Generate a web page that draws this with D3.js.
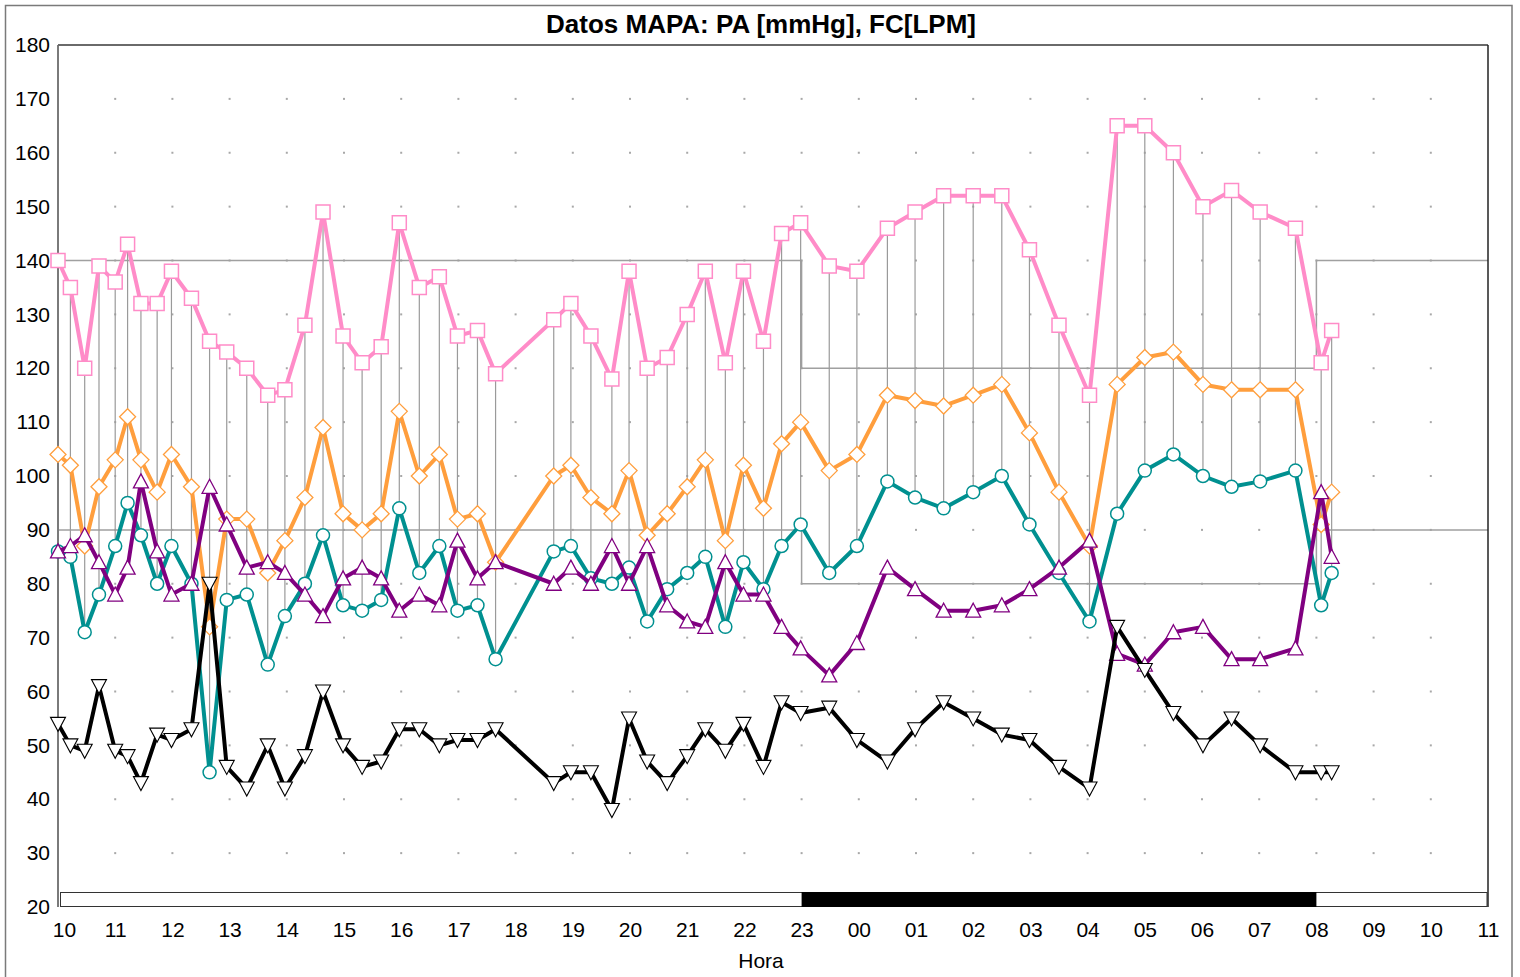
<!DOCTYPE html>
<html>
<head>
<meta charset="utf-8">
<script src="https://cdn.jsdelivr.net/npm/d3@7"></script>
<style>
  body { margin: 0; background: #fff; }
  svg text { font-family: "Liberation Sans", Arial, sans-serif; fill: #000; }
</style>
</head>
<body>
<svg id="chart" width="1520" height="977"></svg>
<script>
// Hora de cada medida
var horas = ["10:00","10:13","10:28","10:43","11:00","11:13","11:27","11:44","11:59","12:20",
             "12:39","12:57","13:18","13:40","13:58","14:19","14:38","14:59","15:19","15:39",
             "15:58","16:19","16:40","16:59","17:20","17:39","18:40","18:58","19:19","19:41",
             "19:59","20:18","20:39","21:00","21:19","21:40","21:59","22:20","22:39","22:59",
             "23:29","23:58","00:30","00:59","01:29","02:00","02:30","02:59","03:30","04:02",
             "04:31","05:00","05:30","06:01","06:31","07:01","07:38","08:05","08:16"];

var sistolica  = [140,135,120,139,136,143,132,132,138,133, 125,123,120,115,116,128,149,126,121,124,
                  147,135,137,126,127,119,129,132,126,118, 138,120,122,130,138,121,138,125,145,147,
                  139,138,146,149,152,152,152,142,128,115, 165,165,160,150,153,149,146,121,127];
var media      = [104,102,87,98,103,111,103,97,104,98, 72,92,92,82,88,96,109,93,90,93,
                  112,100,104,92,93,84,100,102,96,93, 101,89,93,98,103,88,102,94,106,110,
                  101,104,115,114,113,115,117,108,97,87, 117,122,123,117,116,116,116,91,97];
var diastolica = [86,85,71,78,87,95,89,80,87,80, 45,77,78,65,74,80,89,76,75,77,
                  94,82,87,75,76,66,86,87,81,80, 83,73,79,82,85,72,84,79,87,91,
                  82,87,99,96,94,97,100,91,82,73, 93,101,104,100,98,99,101,76,82];
var frecuencia = [86,87,89,84,78,83,99,86,78,80, 98,91,83,84,82,78,74,81,83,81,
                  75,78,76,88,81,84,80,83,80,87, 80,87,76,73,72,84,78,78,72,68,
                  63,69,83,79,75,75,76,79,83,88, 67,65,71,72,66,66,68,97,85];
var presionPulso = [54,50,49,61,49,48,43,52,51,53, 80,46,42,50,42,48,60,50,46,47,
                    53,53,50,51,51,53,43,45,45,38, 55,47,43,48,53,49,54,46,58,56,
                    57,51,47,53,58,55,52,51,46,42, 72,64,56,50,55,50,45,45,45];

// Umbrales (dia / noche) y periodo nocturno, en horas desde 10:00 del primer dia
var umbralSistolica  = [[10,140],[23,140],[23,120],[32,120],[32,140],[35,140]];
var umbralDiastolica = [[10,90],[23,90],[23,80],[32,80],[32,90],[35,90]];
var periodoNoche = [23, 32];

var horasEje = d3.range(10, 36);
var valoresEje = d3.range(20, 181, 10);
var valoresRejilla = d3.range(30, 171, 10);

function aHoras(s) {
    var p = s.split(':');
    var h = +p[0] + (+p[1]) / 60;
    return h < 10 ? h + 24 : h;
}

var svg = d3.select('#chart');
var margin = {left: 58, right: 1488, top: 45, bottom: 907};

var x = d3.scaleLinear().domain([10, 35]).range([margin.left, margin.right]);
var y = d3.scaleLinear().domain([20, 180]).range([margin.bottom, margin.top]);

var puntos = horas.map(function(h, i) {
    return {
        t: aHoras(h),
        sis: sistolica[i],
        med: media[i],
        dia: diastolica[i],
        fc: frecuencia[i],
        pp: presionPulso[i]
    };
});

// marco exterior
svg.append('rect')
    .attr('x', 5.5).attr('y', 5.5)
    .attr('width', 1506.5).attr('height', 1000)
    .attr('fill', 'none').attr('stroke', '#7a7a7a').attr('stroke-width', 1.5);

// titulo
svg.append('text')
    .attr('x', 761).attr('y', 33)
    .attr('text-anchor', 'middle')
    .style('font-size', '26px').style('font-weight', 'bold')
    .text('Datos MAPA: PA [mmHg], FC[LPM]');

// rejilla de puntos
var rejilla = [];
horasEje.slice(1, -1).forEach(function(h) {
    valoresRejilla.forEach(function(v) { rejilla.push([h, v]); });
});
svg.append('g').selectAll('rect')
    .data(rejilla)
  .enter().append('rect')
    .attr('x', function(d) { return x(d[0]) - 1; })
    .attr('y', function(d) { return y(d[1]) - 1; })
    .attr('width', 2).attr('height', 2)
    .attr('fill', '#a8a8a8');

// umbrales
var escalon = d3.line()
    .x(function(d) { return x(d[0]); })
    .y(function(d) { return y(d[1]); });
[umbralSistolica, umbralDiastolica].forEach(function(u) {
    svg.append('path')
        .attr('d', escalon(u))
        .attr('fill', 'none')
        .attr('stroke', '#a0a0a0')
        .attr('stroke-width', 1.5);
});

// lineas verticales sistolica -> diastolica
svg.append('g').selectAll('line')
    .data(puntos)
  .enter().append('line')
    .attr('x1', function(d) { return x(d.t); })
    .attr('x2', function(d) { return x(d.t); })
    .attr('y1', function(d) { return y(d.sis); })
    .attr('y2', function(d) { return y(d.dia); })
    .attr('stroke', '#9a9a9a')
    .attr('stroke-width', 1.2);

// barra dia / noche
svg.append('rect')
    .attr('x', 60.5).attr('y', 892.5)
    .attr('width', x(35) - 61.5).attr('height', 14)
    .attr('fill', '#fff').attr('stroke', '#333').attr('stroke-width', 1);
svg.append('rect')
    .attr('x', x(periodoNoche[0])).attr('y', 892)
    .attr('width', x(periodoNoche[1]) - x(periodoNoche[0])).attr('height', 15)
    .attr('fill', '#000');

// bordes del area
svg.append('line')
    .attr('x1', margin.left).attr('x2', margin.left)
    .attr('y1', margin.top).attr('y2', margin.bottom)
    .attr('stroke', '#7a7a7a').attr('stroke-width', 2);
svg.append('line')
    .attr('x1', margin.left).attr('x2', margin.right)
    .attr('y1', margin.top).attr('y2', margin.top)
    .attr('stroke', '#6a6a6a').attr('stroke-width', 2);
svg.append('line')
    .attr('x1', margin.right).attr('x2', margin.right)
    .attr('y1', margin.top).attr('y2', margin.bottom)
    .attr('stroke', '#222').attr('stroke-width', 1.5);

// series
var marcadores = {
    cuadrado: 'M-7,-7h14v14h-14z',
    rombo: 'M0,-8L8,0L0,8L-8,0Z',
    circulo: 'M6.5,0A6.5,6.5 0 1 1 -6.5,0A6.5,6.5 0 1 1 6.5,0Z',
    trianguloArriba: 'M0,-7.5L7.5,6.5L-7.5,6.5Z',
    trianguloAbajo: 'M-7.5,-6.5L7.5,-6.5L0,7.5Z'
};

var series = [
    {key: 'sis', color: '#ff8cc8', marca: 'cuadrado', trazo: 1.5},
    {key: 'med', color: '#ff9e3d', marca: 'rombo', trazo: 1.3},
    {key: 'dia', color: '#009090', marca: 'circulo', trazo: 1.5},
    {key: 'fc',  color: '#800080', marca: 'trianguloArriba', trazo: 1.3},
    {key: 'pp',  color: '#000000', marca: 'trianguloAbajo', trazo: 1.1}
];

series.forEach(function(s) {
    var linea = d3.line()
        .x(function(d) { return x(d.t); })
        .y(function(d) { return y(d[s.key]); });
    var g = svg.append('g').attr('class', 'serie-' + s.key);
    g.append('path')
        .datum(puntos)
        .attr('d', linea)
        .attr('fill', 'none')
        .attr('stroke', s.color)
        .attr('stroke-width', 4)
        .attr('stroke-linejoin', 'round');
    g.selectAll('.marca')
        .data(puntos)
      .enter().append('path')
        .attr('class', 'marca')
        .attr('d', marcadores[s.marca])
        .attr('transform', function(d) { return 'translate(' + x(d.t) + ',' + y(d[s.key]) + ')'; })
        .attr('fill', '#fff')
        .attr('stroke', s.color)
        .attr('stroke-width', s.trazo);
});

// ejes
var ejeY = svg.append('g')
    .attr('transform', 'translate(' + margin.left + ',0)')
    .call(d3.axisLeft(y).tickValues(valoresEje).tickSize(0).tickPadding(8));
ejeY.select('.domain').remove();
ejeY.selectAll('text').style('font-size', '21px').style('font-family', '"Liberation Sans", Arial, sans-serif');

var ejeX = svg.append('g')
    .attr('transform', 'translate(0,' + margin.bottom + ')')
    .call(d3.axisBottom(x).tickValues(horasEje).tickSize(0).tickPadding(15)
        .tickFormat(function(h) { return String(h % 24).padStart(2, '0'); }));
ejeX.select('.domain').remove();
ejeX.selectAll('text').style('font-size', '21px').style('font-family', '"Liberation Sans", Arial, sans-serif');
ejeX.selectAll('.tick').filter(function(d) { return d === 10; })
    .select('text').attr('x', 6);

svg.append('text')
    .attr('x', 761).attr('y', 968)
    .attr('text-anchor', 'middle')
    .style('font-size', '21px')
    .text('Hora');
</script>
</body>
</html>
